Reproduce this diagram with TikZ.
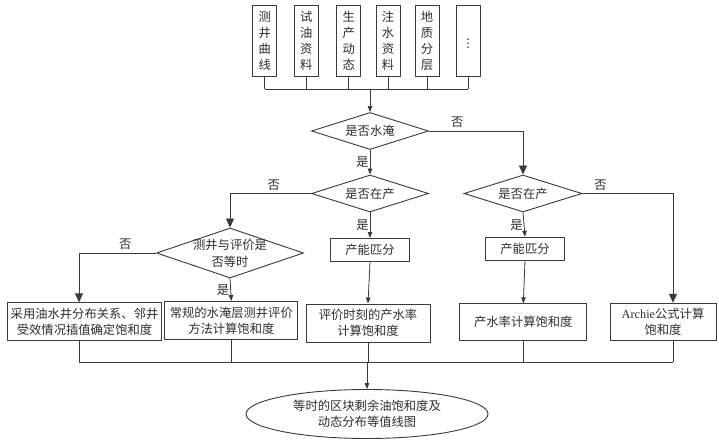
\documentclass[tikz,border=0pt]{standalone}
\usepackage{fontspec}
\setmainfont{Noto Sans CJK SC}
\newfontfamily\latinrm{Liberation Serif}
\usetikzlibrary{shapes.geometric,arrows.meta}

\definecolor{linegray}{HTML}{3A3A3A}
\definecolor{textgray}{HTML}{2E2E2E}

\tikzset{
    box/.style={draw=linegray, line width=0.9pt, inner sep=0pt, align=center, text=textgray},
    cond/.style={diamond, draw=linegray, line width=0.9pt, inner sep=0pt},
    conn/.style={draw=linegray, line width=0.8pt},
    arr/.style={conn, -{Triangle[length=6pt,width=4.5pt]}},
    bigarr/.style={conn, -{Triangle[length=9pt,width=8pt]}},
    lbl/.style={text=textgray, inner sep=1pt, align=center}
}

\begin{document}
\begin{tikzpicture}[x=1pt, y=-1pt, font=\fontsize{12.3}{16}\selectfont]
    \useasboundingbox[fill=white] (0,0) rectangle (719,443);

    % data sources
    \foreach \x/\txt [count=\i] in {264.7/{测\\井\\曲\\线}, 306.3/{试\\油\\资\\料}, 348.7/{生\\产\\动\\态},
            388/{注\\水\\资\\料}, 427/{地\\质\\分\\层}, 468/{$\vdots$}}
        \node[box, minimum width=24, minimum height=71] (t\i) at (\x,40.5) {\txt};
    \coordinate (top) at (370,89);
    \foreach \i in {1,...,6}
        \draw[conn] (t\i.south) -- (t\i.south |- top);
    \draw[conn] (t1.south |- top) -- (t6.south |- top);

    % decisions
    \node[cond, minimum width=117, minimum height=37, label={[lbl]center:是否水淹}] (d1) at (370,131) {};
    \node[cond, minimum width=117, minimum height=37, label={[lbl]center:是否在产}] (d2) at (370,193.5) {};
    \node[cond, minimum width=118, minimum height=37, label={[lbl]center:是否在产}] (d3) at (523,193.5) {};
    \node[cond, minimum width=147, minimum height=50,
        label={[lbl, font=\fontsize{12.3}{17}\selectfont]center:测井与评价是\\否等时}] (d4) at (230,253) {};

    \node[box, minimum width=79, minimum height=23] (p1) at (370,250) {产能匹分};
    \node[box, minimum width=79, minimum height=23] (p2) at (525,248.7) {产能匹分};

    % results
    \node[box, minimum width=154, minimum height=38] (b1) at (84.5,321.8) {采用油水井分布关系、邻井\\受效情况插值确定饱和度};
    \node[box, minimum width=133, minimum height=38] (b2) at (231.3,320.5) {常规的水淹层测井评价\\方法计算饱和度};
    \node[box, minimum width=124, minimum height=38] (b3) at (368,323) {评价时刻的产水率\\计算饱和度};
    \node[box, minimum width=127, minimum height=37] (b4) at (523.3,322.3) {产水率计算饱和度};
    \node[box, minimum width=106, minimum height=37] (b5) at (663,321.7) {{\latinrm Archie}公式计算\\饱和度};

    \node[ellipse, draw=linegray, line width=0.9pt, inner sep=0pt, align=center, text=textgray,
        minimum width=242, minimum height=49] (e) at (367,414) {等时的区块剩余油饱和度及\\动态分布等值线图};

    % flow
    \draw[arr] (top) -- (d1.north);
    \draw[arr] (d1.south) -- node[lbl, left] {是} (d2.north);
    \draw[bigarr] (d1.east) -| node[lbl, pos=0.15, above=2pt] {否} (d3.north);
    \draw[bigarr] (d2.west) -| node[lbl, pos=0.23, above=2pt] {否} (d4.north);
    \draw[bigarr] (d4.west) -| node[lbl, pos=0.2, above=2pt] {否} ([xshift=-5.5pt]b1.north);
    \draw[arr] (d4.south) -- node[lbl, left] {是} (b2.north);
    \draw[arr] (d2.south) -- node[lbl, left] {是} (p1.north);
    \draw[arr] (p1.south) -- (b3.north);
    \draw[arr] (d3.south) -- node[lbl, left] {是} (p2.north);
    \draw[arr] (p2.south) -- (b4.north);
    \draw[bigarr] (d3.east) -| node[lbl, pos=0.1, above=2pt] {否} ([xshift=10pt]b5.north);

    % collect results
    \coordinate (bot) at (367,362);
    \draw[conn] ([xshift=-5.5pt]b1.south) -- ([xshift=-5.5pt]b1.south |- bot);
    \draw[conn] (b2.south) -- (b2.south |- bot);
    \draw[conn] (b3.south) -- (b3.south |- bot);
    \draw[conn] (b4.south) -- (b4.south |- bot);
    \draw[conn] ([xshift=10pt]b5.south) -- ([xshift=10pt]b5.south |- bot);
    \draw[conn] ([xshift=-5.5pt]b1.south |- bot) -- ([xshift=10pt]b5.south |- bot);
    \draw[arr] (bot) -- (e.north);
\end{tikzpicture}
\end{document}
